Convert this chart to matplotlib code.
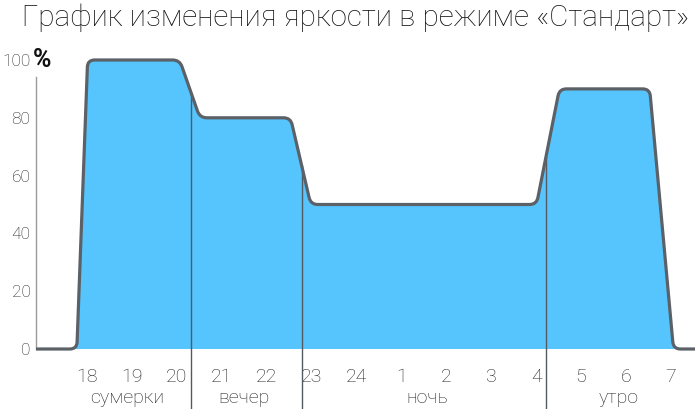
import numpy as np
import matplotlib
matplotlib.use("Agg")
import matplotlib.pyplot as plt
from matplotlib.path import Path
from matplotlib.patches import PathPatch

plt.rcParams['font.family'] = ['Roboto', 'DejaVu Sans']

# ---- data ----
title = "График изменения яркости в режиме «Стандарт»"
# time axis in continuous hours (24 -> 24, 1 -> 25, ..., 7 -> 31)
curve_t = [16.86, 17.77, 18.01, 20.06, 20.51, 22.53, 22.98, 28.01, 28.52, 30.53, 31.06, 31.54]
brightness = [0, 0, 100, 100, 80, 80, 50, 50, 90, 90, 0, 0]
hour_pos = [18, 19, 20, 21, 22, 23, 24, 25, 26, 27, 28, 29, 30, 31]
hour_labels = ["18", "19", "20", "21", "22", "23", "24", "1", "2", "3", "4", "5", "6", "7"]
separators = [20.32, 22.78, 28.22]
period_names = ["сумерки", "вечер", "ночь", "утро"]
period_centers = [18.89, 21.5, 25.58, 29.83]
y_ticks = [0, 20, 40, 60, 80, 100]

FILL = "#56C5FE"
LINE = "#5B6167"

W, H = 695, 409
fig = plt.figure(figsize=(W / 100, H / 100), dpi=100)
ax = fig.add_axes([36 / W, 1 - 349 / H, 1 - 36 / W, (349 - 40) / H])
ax.set_xlim(curve_t[0], curve_t[-1])
ax.set_ylim(0, (349 - 40) / 2.89)

# rounded-corner path in display coords
fig.canvas.draw()
pts = ax.transData.transform(np.column_stack([curve_t, brightness]))
radius = 7.0
verts = [pts[0]]
codes = [Path.MOVETO]
for i in range(1, len(pts) - 1):
    P, A, B = pts[i], pts[i - 1], pts[i + 1]
    da, db = A - P, B - P
    la, lb = np.hypot(*da), np.hypot(*db)
    r = min(radius, 0.45 * la, 0.45 * lb)
    verts += [P + da / la * r, P, P + db / lb * r]
    codes += [Path.LINETO, Path.CURVE3, Path.CURVE3]
verts.append(pts[-1])
codes.append(Path.LINETO)
inv = ax.transData.inverted()
dverts = inv.transform(np.array(verts))

line_path = Path(dverts, codes)
fill_verts = np.vstack([dverts, [[curve_t[-1], 0], [curve_t[0], 0], dverts[0]]])
fill_codes = codes + [Path.LINETO, Path.LINETO, Path.CLOSEPOLY]
ax.add_patch(PathPatch(Path(fill_verts, fill_codes), facecolor=FILL, edgecolor='none', zorder=1))

# separators from curve down below the axis
bottom_val = (349 - 409) / 2.89
for s in separators:
    top = np.interp(s, curve_t, brightness)
    ax.plot([s, s], [top, bottom_val], color="#555a60", lw=1.0, clip_on=False, zorder=2)

ax.add_patch(PathPatch(line_path, facecolor='none', edgecolor=LINE, lw=2.3,
                       capstyle='butt', joinstyle='round', zorder=3, clip_on=False))

# axes styling
for sp in ['top', 'right', 'bottom']:
    ax.spines[sp].set_visible(False)
ax.spines['left'].set_bounds(0, 94)
ax.spines['left'].set_color("#9a9a9a")
ax.spines['left'].set_linewidth(1.0)
ax.set_yticks(y_ticks)
ax.set_yticklabels([str(v) for v in y_ticks])
ax.set_xticks(hour_pos)
ax.set_xticklabels(hour_labels)
ax.tick_params(axis='y', length=0, pad=4, labelsize=12.5, labelcolor="#222222")
ax.tick_params(axis='x', length=0, pad=13.5, labelsize=14, labelcolor="#222222")
for lab in ax.get_xticklabels() + ax.get_yticklabels():
    lab.set_fontweight('light')

ax.annotate('%', xy=(0, 100), xycoords=('axes fraction', 'data'), xytext=(-3, 0),
            textcoords='offset pixels', ha='left', va='center', fontsize=18,
            fontweight='bold', color="#111111")

for name, c in zip(period_names, period_centers):
    ax.text(c, (349 - 398) / 2.89, name, ha='center', va='center', fontsize=14,
            fontweight='light', color="#222222", clip_on=False)

fig.text(355 / W, 1 - 18 / H, title, ha='center', va='center', fontsize=21.3,
         fontweight='light', color="#111111")

fig.savefig("out.png", dpi=100)
